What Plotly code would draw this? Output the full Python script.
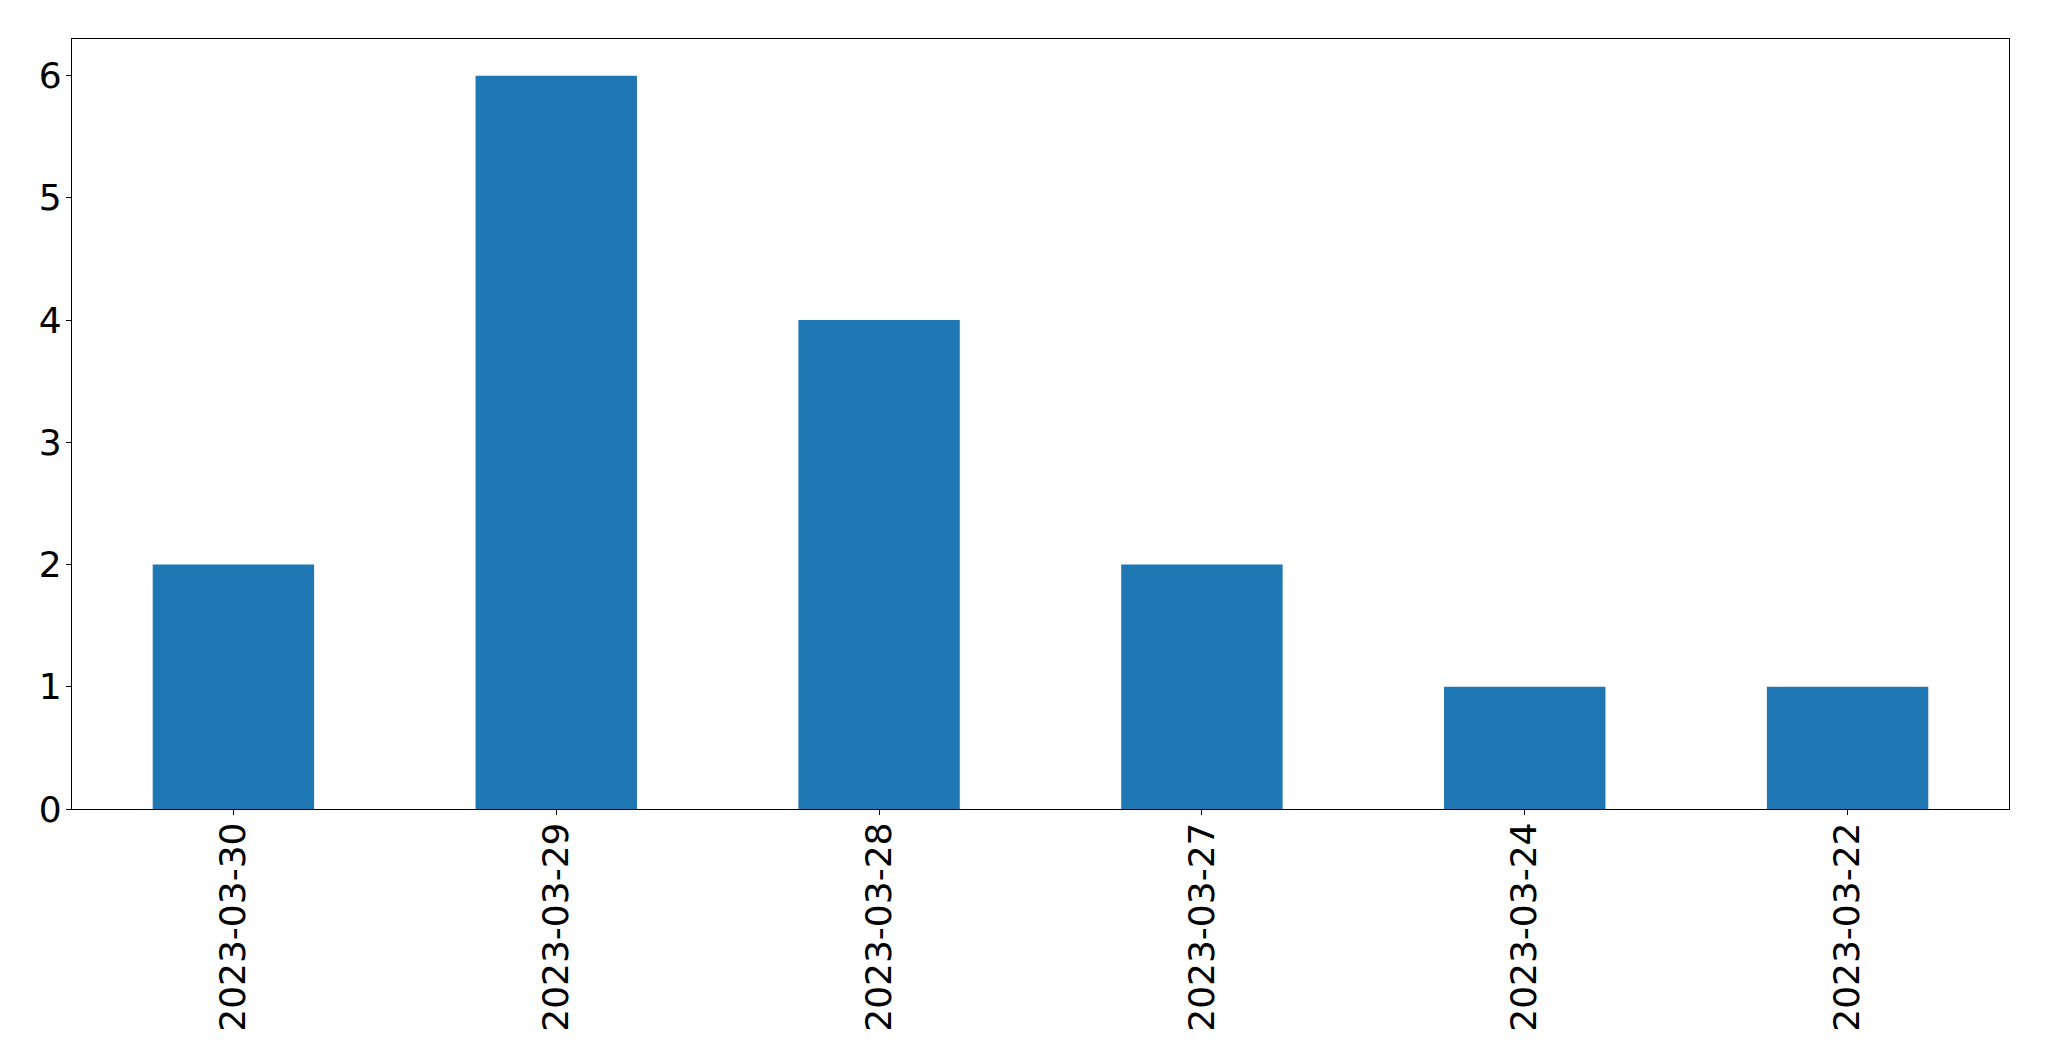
import plotly.graph_objects as go

dates = ["2023-03-30", "2023-03-29", "2023-03-28", "2023-03-27", "2023-03-24", "2023-03-22"]
counts = [2, 6, 4, 2, 1, 1]

fig = go.Figure(
    go.Bar(x=dates, y=counts, marker=dict(color="#1f77b4", line=dict(width=0)), width=0.5)
)

axis_common = dict(
    showline=True, linecolor="black", linewidth=1.3, mirror=True,
    ticks="outside", ticklen=5, tickwidth=1.3, tickcolor="black",
    showgrid=False, zeroline=False,
    tickfont=dict(family="DejaVu Sans", size=36, color="black"),
)

fig.update_layout(
    width=2049, height=1061,
    margin=dict(l=64, r=48, t=31, b=260),
    paper_bgcolor="white", plot_bgcolor="white",
    showlegend=False,
    xaxis=dict(type="category", range=[-0.5, 5.5], tickangle=-90, ticklabelstandoff=-7, **axis_common),
    yaxis=dict(range=[0, 6.3], tickvals=[0, 1, 2, 3, 4, 5, 6], ticklabelstandoff=-3, **axis_common),
)

fig.write_html("out.html")
